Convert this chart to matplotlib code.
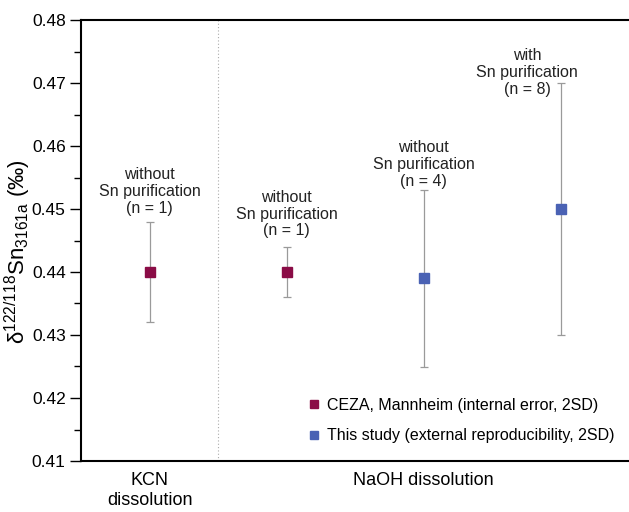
import matplotlib
matplotlib.use('Agg')
import matplotlib.pyplot as plt
from matplotlib.lines import Line2D
from matplotlib.ticker import MultipleLocator, FormatStrFormatter

plt.rcParams['font.family'] = ['Liberation Sans', 'DejaVu Sans']
plt.rcParams['mathtext.fontset'] = 'custom'
plt.rcParams['mathtext.rm'] = 'Liberation Sans'
plt.rcParams['mathtext.it'] = 'Liberation Sans:italic'

# data
positions = [1, 2, 3, 4]
values = [0.440, 0.440, 0.439, 0.450]
errors = [0.008, 0.004, 0.014, 0.020]
sources = ['ceza', 'ceza', 'study', 'study']
notes = ['without\nSn purification\n(n = 1)',
         'without\nSn purification\n(n = 1)',
         'without\nSn purification\n(n = 4)',
         'with\nSn purification\n(n = 8)']
note_offsets = [(0, 4), (0, 6), (0, 1), (-24, -10)]
group_labels = ['KCN\ndissolution', 'NaOH dissolution']
group_pos = [1, 3]

colors = {'ceza': '#8a0c46', 'study': '#4a62b4'}
legend_labels = {'ceza': 'CEZA, Mannheim (internal error, 2SD)',
                 'study': 'This study (external reproducibility, 2SD)'}

fig = plt.figure(figsize=(6.29, 5.12), dpi=100)
ax = fig.add_axes([81 / 629, 51 / 512, 548 / 629, 441 / 512])

for x, y, e, s in zip(positions, values, errors, sources):
    ax.errorbar(x, y, yerr=e, fmt='none', ecolor='#9a9a9a', elinewidth=0.9,
                capsize=2.8, capthick=0.9, zorder=2)
    ax.plot(x, y, marker='s', markersize=7.5, color=colors[s], linestyle='none', zorder=3)

for x, y, e, txt, off in zip(positions, values, errors, notes, note_offsets):
    ax.annotate(txt, xy=(x, y + e), xytext=off, textcoords='offset points',
                ha='center', va='bottom', fontsize=11.5, color='#222222', linespacing=1.15)

ax.axvline(1.5, color='#aaaaaa', linestyle=(0, (1, 2)), linewidth=0.8, zorder=1)

ax.set_xlim(0.5, 4.5)
ax.set_ylim(0.41, 0.48)
ax.yaxis.set_major_locator(MultipleLocator(0.01))
ax.yaxis.set_minor_locator(MultipleLocator(0.005))
ax.yaxis.set_major_formatter(FormatStrFormatter('%.2f'))
ax.tick_params(axis='y', which='major', direction='out', length=8, width=1,
               labelsize=12.5, pad=3)
ax.tick_params(axis='y', which='minor', direction='out', length=5, width=1)
ax.set_xticks(group_pos)
ax.set_xticklabels(group_labels, fontsize=13)
ax.tick_params(axis='x', length=0, pad=8)

ax.spines['right'].set_visible(False)
for side in ['left', 'top', 'bottom']:
    ax.spines[side].set_linewidth(1.5)

ax.set_ylabel(r'$\mathregular{\delta^{122/118}Sn_{3161a}}$ (‰)', fontsize=16)
ax.yaxis.set_label_coords(-0.087, 0.474)

handles = [Line2D([], [], marker='s', markersize=6, color=colors[k], linestyle='none')
           for k in ['ceza', 'study']]
ax.legend(handles, [legend_labels[k] for k in ['ceza', 'study']], loc='lower right',
          bbox_to_anchor=(1.0, 0.008), frameon=False, fontsize=11.5,
          handletextpad=0.35, labelspacing=0.95, handlelength=1.0)

fig.savefig('out.png', dpi=100)
